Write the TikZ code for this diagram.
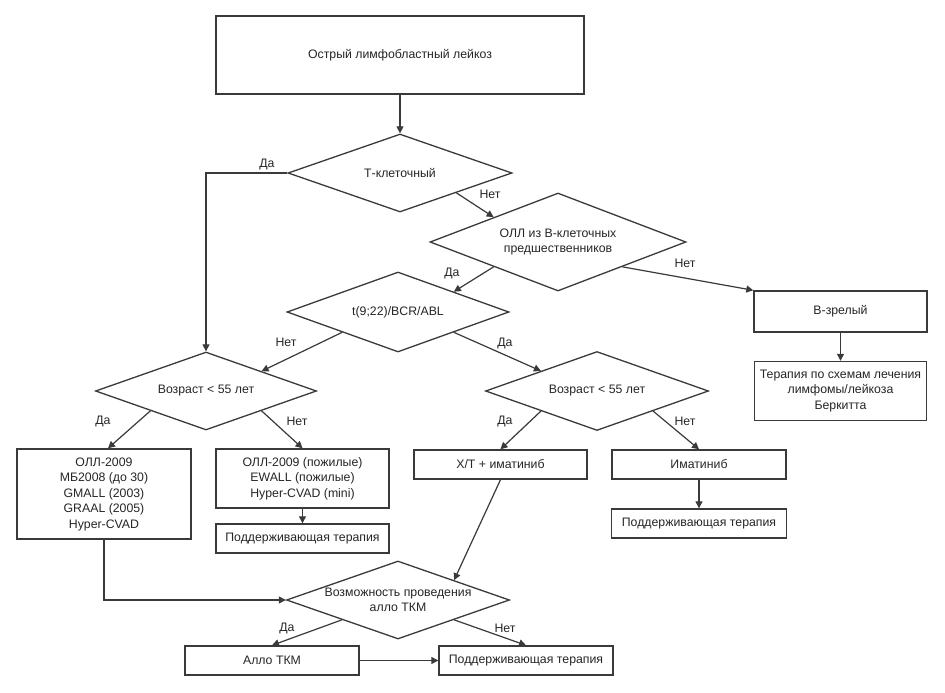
\documentclass[tikz,border=0pt]{standalone}
\usepackage{fontspec}
\setmainfont{Liberation Sans}
\usetikzlibrary{shapes.geometric,arrows.meta,calc}
\definecolor{ln}{HTML}{3A3A3A}
\tikzset{
  txt/.style={font=\fontsize{12.3}{15.5}\selectfont, text=black!85, align=center},
  box/.style={txt, draw=ln, line width=1.4pt, inner sep=0pt},
  dia/.style={txt, draw=ln, line width=1.3pt, shape=diamond, inner sep=0pt, aspect=2.8},
  arr/.style={draw=ln, line width=1.2pt, -{Triangle[length=7pt,width=7pt]}},
  lbl/.style={txt}
}
\begin{document}
\begin{tikzpicture}[x=1pt,y=-1pt]
\useasboundingbox[fill=white] (0,0) rectangle (945,693);
% boxes
\node[box, minimum width=368pt, minimum height=78pt] (top) at (400,55) {Острый лимфобластный лейкоз};
\node[box, minimum width=173pt, minimum height=41pt] (bz) at (840.5,311.5) {В-зрелый};
\node[box, minimum width=172pt, minimum height=59pt] (ber) at (840.5,391) {Терапия по схемам лечения\\лимфомы/лейкоза\\Беркитта};
\node[box, minimum width=174pt, minimum height=90pt] (oll1) at (104,494) {ОЛЛ-2009\\МБ2008 (до 30)\\GMALL (2003)\\GRAAL (2005)\\Hyper-CVAD};
\node[box, minimum width=173pt, minimum height=59pt] (oll2) at (302.5,478.5) {ОЛЛ-2009 (пожилые)\\EWALL (пожилые)\\Hyper-CVAD (mini)};
\node[box, minimum width=173pt, minimum height=29pt] (pod1) at (302.5,538.5) {Поддерживающая терапия};
\node[box, minimum width=173pt, minimum height=29pt] (xt) at (500.5,464.5) {Х/Т + иматиниб};
\node[box, minimum width=174pt, minimum height=29pt] (im) at (699,464.5) {Иматиниб};
\node[box, minimum width=175pt, minimum height=29pt] (pod2) at (699,523.5) {Поддерживающая терапия};
\node[box, minimum width=174pt, minimum height=29pt] (allo) at (272,660.5) {Алло ТКМ};
\node[box, minimum width=174pt, minimum height=29pt] (pod3) at (526,660.5) {Поддерживающая терапия};
% diamonds
\node[dia, minimum width=224pt, minimum height=78pt] (d1) at (400,173) {Т-клеточный};
\node[dia, minimum width=256pt, minimum height=98pt] (d2) at (558,242) {ОЛЛ из В-клеточных\\предшественников};
\node[dia, minimum width=222pt, minimum height=80pt] (d3) at (398,312) {t(9;22)/BCR/ABL};
\node[dia, minimum width=221pt, minimum height=78pt] (v1) at (206,391) {Возраст < 55 лет};
\node[dia, minimum width=223pt, minimum height=79pt] (v2) at (597,391) {Возраст < 55 лет};
\node[dia, minimum width=223pt, minimum height=78pt] (d6) at (398,600) {Возможность проведения\\алло ТКМ};
% connectors
\draw[arr] (top.south) -- (d1.north);
\draw[arr] (d1.west) -| (v1.north);
\draw[arr] ($(d1.east)!0.5!(d1.south)$) -- ($(d2.west)!0.5!(d2.north)$);
\draw[arr] ($(d2.east)!0.5!(d2.south)$) -- (bz.north west);
\draw[arr] (bz.south) -- (ber.north);
\draw[arr] ($(d2.west)!0.5!(d2.south)$) -- ($(d3.east)!0.5!(d3.north)$);
\draw[arr] ($(d3.west)!0.5!(d3.south)$) -- ($(v1.east)!0.5!(v1.north)$);
\draw[arr] ($(d3.east)!0.5!(d3.south)$) -- ($(v2.west)!0.5!(v2.north)$);
\draw[arr] ($(v1.west)!0.5!(v1.south)$) -- ($(oll1.north)+(4,0)$);
\draw[arr] ($(v1.east)!0.5!(v1.south)$) -- (oll2.north);
\draw[arr] (oll2.south) -- (pod1.north);
\draw[arr] ($(v2.west)!0.5!(v2.south)$) -- (xt.north);
\draw[arr] ($(v2.east)!0.5!(v2.south)$) -- (im.north);
\draw[arr] (im.south) -- (pod2.north);
\draw[arr] (xt.south) -- ($(d6.east)!0.5!(d6.north)$);
\draw[arr] (oll1.south) |- (d6.west);
\draw[arr] ($(d6.west)!0.5!(d6.south)$) -- (allo.north);
\draw[arr] ($(d6.east)!0.5!(d6.south)$) -- (pod3.north);
\draw[arr] (allo.east) -- (pod3.west);
% labels
\node[lbl] (l1) at (267,164) {Да};
\node[lbl] (l2) at (490,194) {Нет};
\node[lbl] (l3) at (685,263) {Нет};
\node[lbl] (l4) at (452,273) {Да};
\node[lbl] (l5) at (286,342) {Нет};
\node[lbl] (l6) at (505,343) {Да};
\node[lbl] (l7) at (103,421) {Да};
\node[lbl] (l8) at (297,421) {Нет};
\node[lbl] (l9) at (505,421) {Да};
\node[lbl] (l10) at (685,421) {Нет};
\node[lbl] (l11) at (287,628) {Да};
\node[lbl] (l12) at (505,628) {Нет};
\end{tikzpicture}
\end{document}
